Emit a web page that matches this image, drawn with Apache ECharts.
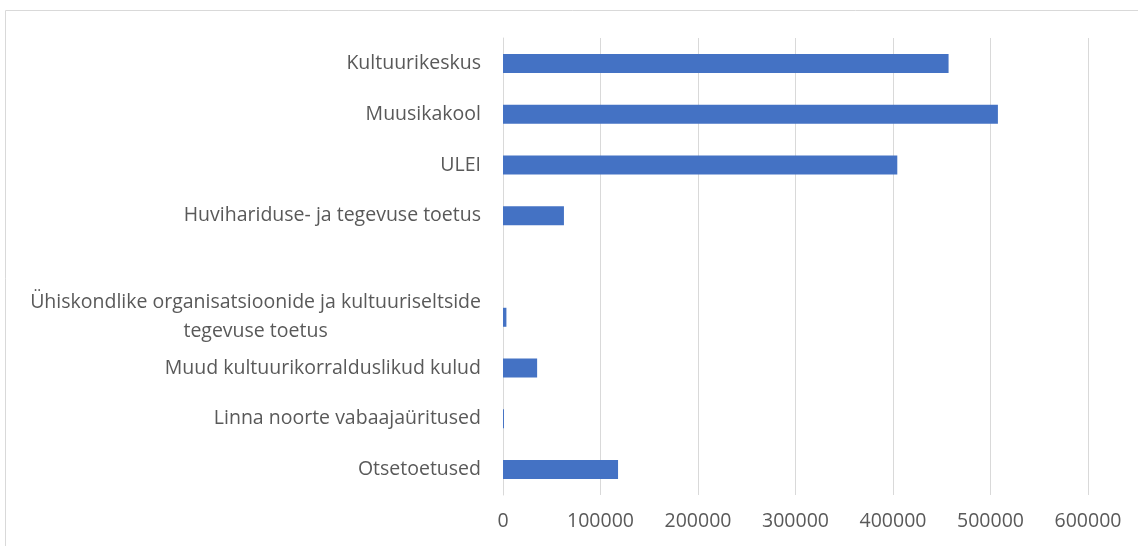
<!DOCTYPE html>
<html>
<head>
<meta charset="utf-8">
<style>
  html, body { margin: 0; padding: 0; background: #fff; }
  #chart { width: 1138px; height: 546px; }
</style>
<script src="https://cdn.jsdelivr.net/npm/echarts@6/dist/echarts.min.js"></script>
</head>
<body>
<div id="chart"></div>
<script>
// categories, top to bottom (one empty slot as in the source)
var categories = [
  'Kultuurikeskus',
  'Muusikakool',
  'ULEI',
  'Huvihariduse- ja tegevuse toetus',
  '',
  'Ühiskondlike organisatsioonide ja kultuuriseltside\ntegevuse toetus',
  'Muud kultuurikorralduslikud kulud',
  'Linna noorte vabaajaüritused',
  'Otsetoetused'
];
var values = [457000, 507600, 404400, 62500, null, 3500, 35000, 1000, 118000];
var xTicks = [0, 100000, 200000, 300000, 400000, 500000, 600000];

var textColor = '#595959';
var font = 'Open Sans';
var fs = 19.5;

var chart = echarts.init(document.getElementById('chart'));
chart.setOption({
  animation: false,
  graphic: [
    {
      type: 'rect',
      shape: { x: 5.5, y: 10.5, width: 1150, height: 560 },
      style: { fill: 'none', stroke: '#d9d9d9', lineWidth: 1 },
      silent: true
    }
  ],
  grid: { left: 503, right: 50, top: 38, bottom: 51 },
  xAxis: {
    type: 'value',
    min: xTicks[0],
    max: xTicks[xTicks.length - 1],
    interval: 100000,
    axisLine: { show: false },
    axisTick: { show: false },
    splitLine: { lineStyle: { color: '#d9d9d9', width: 1 } },
    axisLabel: {
      color: textColor,
      fontFamily: font,
      fontSize: fs,
      margin: 16,
      formatter: function (v) { return String(v); }
    }
  },
  yAxis: {
    type: 'category',
    inverse: true,
    data: categories,
    axisLine: { show: true, lineStyle: { color: '#d9d9d9', width: 1 } },
    axisTick: { show: false },
    axisLabel: {
      color: textColor,
      fontFamily: font,
      fontSize: fs,
      margin: 22,
      lineHeight: 29,
      formatter: function (value) {
        return value.split('\n').map(function (s) { return '{c|' + s + '}'; }).join('\n');
      },
      rich: {
        c: { align: 'center', color: textColor, fontFamily: font, fontSize: fs, lineHeight: 29 }
      }
    }
  },
  series: [
    {
      type: 'bar',
      data: values,
      barWidth: 19,
      itemStyle: { color: '#4472c4' }
    }
  ]
});
</script>
</body>
</html>
